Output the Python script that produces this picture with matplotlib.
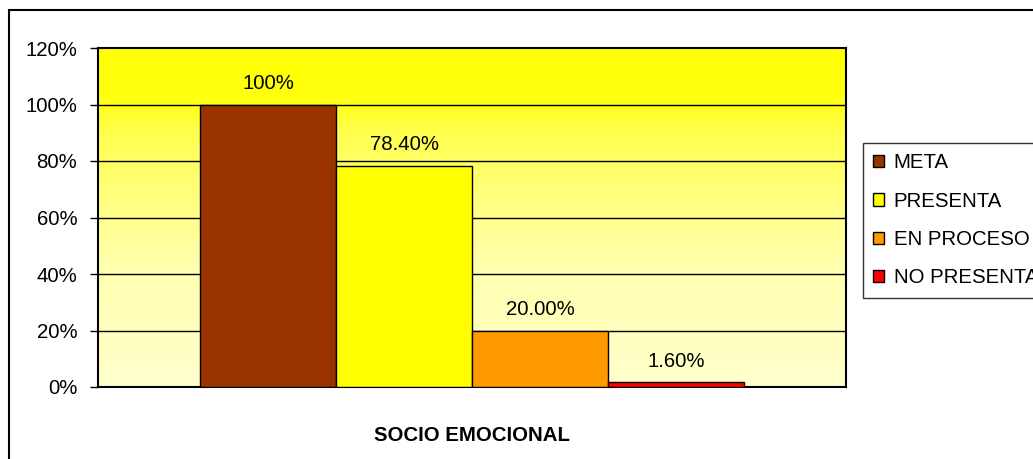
import numpy as np
import matplotlib
matplotlib.use("Agg")
import matplotlib.pyplot as plt
from matplotlib.patches import Rectangle
from matplotlib.colors import LinearSegmentedColormap

plt.rcParams['font.family'] = ['Liberation Sans', 'DejaVu Sans']

# data
category = "SOCIO EMOCIONAL"
series = ["META", "PRESENTA", "EN PROCESO", "NO PRESENTA"]
values = [1.00, 0.784, 0.20, 0.016]
labels = ["100%", "78.40%", "20.00%", "1.60%"]
colors = ["#993300", "#FFFF00", "#FF9900", "#FF0000"]
yticks = [0, 0.2, 0.4, 0.6, 0.8, 1.0, 1.2]
ytick_labels = ["0%", "20%", "40%", "60%", "80%", "100%", "120%"]

W, H = 1033, 459
fs = 14.7
fig = plt.figure(figsize=(W / 100, H / 100), dpi=100)

# outer chart frame (runs off the right/bottom edge)
fig.patches.append(Rectangle((9 / W, -0.05), 1.1, 1 - 10 / H + 0.05,
                             transform=fig.transFigure, fill=False,
                             edgecolor="black", linewidth=1.5))

ax = fig.add_axes([98 / W, 1 - 387 / H, (846 - 98) / W, (387 - 48) / H])

# gradient background
grad = np.linspace(0, 1, 256).reshape(-1, 1)
cmap = LinearSegmentedColormap.from_list(
    "bg", [(0, "#FFFFCC"), (0.35, "#FFFFB0"), (0.75, "#FFFF50"), (0.85, "#FFFF10"), (1, "#FFFF00")])
ax.imshow(grad, extent=[-0.5, 0.5, 0, 1.2], origin="lower", aspect="auto",
          cmap=cmap, zorder=0)

ax.set_xlim(-0.5, 0.5)
ax.set_ylim(0, 1.2)

w = 136 / 748
offsets = (np.arange(len(series)) - 1.5) * w
for i, (s, v, c) in enumerate(zip(series, values, colors)):
    ax.bar(offsets[i], v, width=w, color=c, edgecolor="black", linewidth=1,
           label=s, zorder=3)
    ax.text(offsets[i], v + 0.075, labels[i], ha="center", va="center",
            fontsize=fs, zorder=4)

for t in yticks[1:-1]:
    ax.axhline(t, color="black", linewidth=1, zorder=1)

ax.set_yticks(yticks)
ax.set_yticklabels(ytick_labels, fontsize=fs)
ax.tick_params(axis="y", length=6, width=1, pad=9)
ax.set_xticks([0])
ax.set_xticklabels([category], fontsize=fs, fontweight="bold")
ax.tick_params(axis="x", length=0, pad=28)
for sp in ax.spines.values():
    sp.set_linewidth(1.5)

leg = ax.legend(loc="upper left", bbox_to_anchor=(863 / W, 1 - 143 / H),
                bbox_transform=fig.transFigure, fontsize=fs, frameon=True,
                fancybox=False, edgecolor="black", handlelength=0.55,
                handleheight=0.55, handletextpad=0.45, labelspacing=0.95,
                borderpad=0.5, borderaxespad=0)
leg.get_frame().set_linewidth(1)

fig.savefig("out.png", dpi=100)
